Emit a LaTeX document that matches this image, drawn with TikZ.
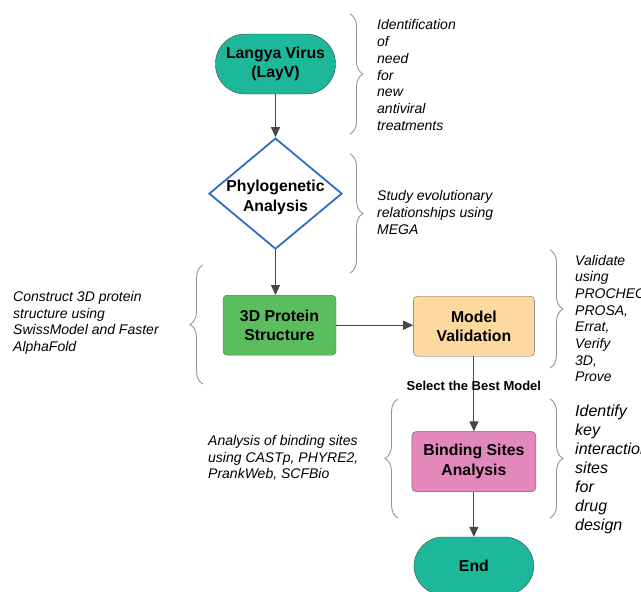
\documentclass[tikz,border=0pt]{standalone}
\usepackage{fontspec}
\setmainfont{Liberation Sans}
\usepackage{tikz}
\usetikzlibrary{shapes.geometric, arrows.meta, positioning, decorations.pathreplacing}
\usepackage{xcolor}

\definecolor{termteal}{HTML}{1DB89A}
\definecolor{diablue}{HTML}{2C6DC8}
\definecolor{protgreen}{HTML}{5CBD5E}
\definecolor{validorange}{HTML}{FDD9A0}
\definecolor{bindpink}{HTML}{E288BA}
\newcommand{\lvboxfont}{\fontsize{15.8}{19.5}\selectfont\bfseries}
\newcommand{\lvnotefont}{\fontsize{14}{16.7}\selectfont\itshape}

\begin{document}
\begin{tikzpicture}[x=1pt, y=-1pt,
  node distance=43pt,
  term/.style={draw=black!75, fill=termteal, rounded corners=29.5pt, align=center,
               minimum width=120pt, minimum height=60pt, font=\lvboxfont},
  decision/.style={diamond, draw=diablue, line width=1.8pt, fill=white,
                   minimum width=133pt, minimum height=111pt, inner sep=0pt},
  procbox/.style={draw=black!60, rounded corners=4pt, align=center,
                  minimum height=60pt, font=\lvboxfont},
  note/.style={anchor=west, align=left, inner sep=0pt, font=\lvnotefont},
  brc/.style={decorate, decoration={brace, amplitude=13pt}, draw=gray!85, line width=0.9pt},
  arr/.style={-{Triangle[length=10pt,width=9pt]}, draw=black!72, line width=1pt}]
\useasboundingbox (0,0) rectangle (641,592);
\clip (0,0) rectangle (641,592);

% flow
\node[term] (start) at (275.5,64) {Langya Virus\\(LayV)};
\node[decision, below=43pt of start] (phylo) {};
\node[font=\lvboxfont, align=center, yshift=-4pt] (phylotxt) at (phylo) {Phylogenetic\\Analysis};
\node[procbox, fill=protgreen, minimum width=113pt, below=45pt of phylo, xshift=4pt] (prot) {3D Protein\\Structure};
\node[procbox, fill=validorange, minimum width=121pt, right=77pt of prot, yshift=-1pt] (valid) {Model\\Validation};
\node[procbox, fill=bindpink, minimum width=124pt, below=75pt of valid] (bind) {Binding Sites\\Analysis};
\node[term, minimum height=58pt, below=45pt of bind] (end) {End};

\draw[arr] (start) -- (phylo);
\draw[arr] (phylo.south) -- (phylo.south |- prot.north);
\draw[arr] (prot.east) -- (prot.east -| valid.west);
\draw[arr] (valid) -- node[pos=0.39, font=\fontsize{13}{15}\selectfont\bfseries] (best) {Select the Best Model} (bind);
\draw[arr] (bind) -- (end);

% braces
\draw[brc] (350,14) -- (350,134);
\draw[brc] (350,154) -- (350,273);
\draw[brc] (203,384) -- (203,265);
\draw[brc] (550,250) -- (550,368);
\draw[brc] (398,518) -- (398,399);
\draw[brc] (550,399) -- (550,518);

% notes
\node[note] (startnote) at (377,75) {Identification\\of\\need\\for\\new\\antiviral\\treatments};
\node[note] (phylonote) at (377,212.5) {Study evolutionary\\relationships using\\MEGA};
\node[note] (protnote) at (13,323) {Construct 3D protein\\structure using\\SwissModel and Faster\\AlphaFold};
\node[note] (validnote) at (575,318.5) {Validate\\using\\PROCHECK,\\PROSA,\\Errat,\\Verify\\3D,\\Prove};
\node[note] (bindnote) at (208,458) {Analysis of binding sites\\using CASTp, PHYRE2,\\PrankWeb, SCFBio};
\node[note, font=\fontsize{16}{19}\selectfont\itshape] (sitenote) at (575,469) {Identify\\key\\interaction\\sites\\for\\drug\\design};
\end{tikzpicture}
\end{document}
